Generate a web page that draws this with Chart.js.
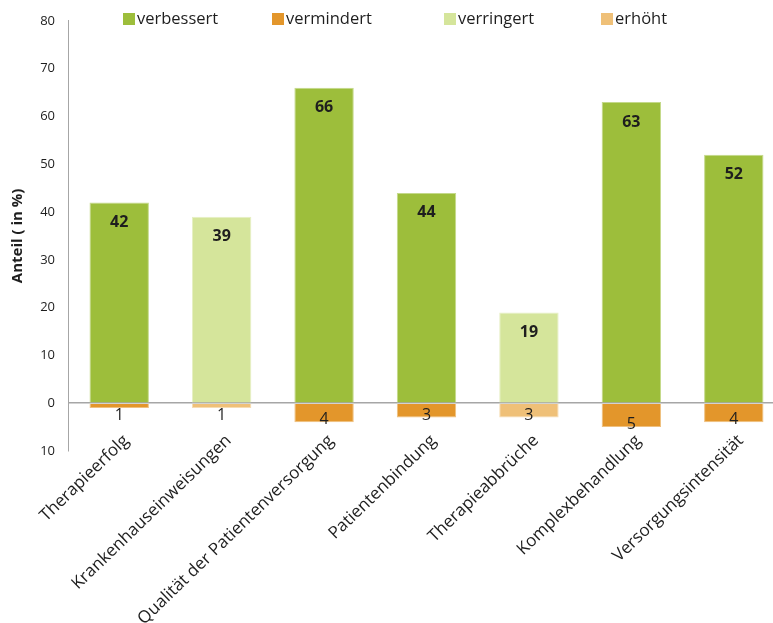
<!DOCTYPE html>
<html lang="de">
<head>
<meta charset="utf-8">
<script src="https://cdn.jsdelivr.net/npm/chart.js@4"></script>
<style>
  html, body { margin: 0; padding: 0; background: #fff; overflow: hidden; }
  .wrap { width: 790px; height: 623px; position: relative; }
</style>
</head>
<body>
<div class="wrap"><canvas id="chart"></canvas></div>
<script>
const categories = [
    'Therapieerfolg', 'Krankenhauseinweisungen', 'Qualität der Patientenversorgung',
    'Patientenbindung', 'Therapieabbrüche', 'Komplexbehandlung', 'Versorgungsintensität'
];
const verbessert = [42, null, 66, 44, null, 63, 52];
const vermindert = [-1, null, -4, -3, null, -5, -4];
const verringert = [null, 39, null, null, 19, null, null];
const erhoeht    = [null, -1, null, null, -3, null, null];
const yTicks = [-10, 0, 10, 20, 30, 40, 50, 60, 70, 80];

const FONT = '"Open Sans", "DejaVu Sans", sans-serif';
const INK = '#1e1e1e';

// legend is drawn on top of the plot, Excel style, at fixed spots
const legendX = [123, 272, 444, 601];

const legendPlugin = {
    id: 'topLegend',
    afterDraw(chart) {
        const ctx = chart.ctx;
        ctx.save();
        ctx.font = '16.5px ' + FONT;
        ctx.textBaseline = 'middle';
        chart.data.datasets.forEach((ds, i) => {
            const x = legendX[i];
            ctx.fillStyle = ds.backgroundColor;
            ctx.fillRect(x, 13, 12, 12);
            ctx.fillStyle = INK;
            ctx.fillText(ds.label, x + 14, 19);
        });
        ctx.restore();
    }
};

// category names: slanted, and allowed to reach up into the plot's bottom strip
const categoryLabels = {
    id: 'categoryLabels',
    afterDraw(chart) {
        const ctx = chart.ctx;
        const xs = chart.scales.x;
        const y = chart.chartArea.bottom - 13;
        ctx.save();
        ctx.font = '17px ' + FONT;
        ctx.fillStyle = INK;
        ctx.textAlign = 'right';
        ctx.textBaseline = 'middle';
        xs.ticks.forEach((t, i) => {
            ctx.save();
            ctx.translate(xs.getPixelForTick(i) + 7, y);
            ctx.rotate(-44 * Math.PI / 180);
            ctx.fillText(categories[i], 0, 0);
            ctx.restore();
        });
        ctx.restore();
    }
};

const valueLabels = {
    id: 'valueLabels',
    afterDatasetsDraw(chart) {
        const ctx = chart.ctx;
        const zeroY = chart.scales.y.getPixelForValue(0);
        ctx.save();
        ctx.textAlign = 'center';
        ctx.textBaseline = 'middle';
        ctx.fillStyle = INK;
        chart.data.datasets.forEach((ds, di) => {
            const meta = chart.getDatasetMeta(di);
            meta.data.forEach((el, i) => {
                const v = ds.data[i];
                if (v === null || v === undefined) return;
                if (v > 0) {
                    ctx.font = 'bold 16px ' + FONT;
                    ctx.fillText(String(v), el.x, el.y + 20);
                } else {
                    ctx.font = '16px ' + FONT;
                    const y = Math.max(el.y - 3, zeroY + 12);
                    ctx.fillText(String(Math.abs(v)), el.x, y);
                }
            });
        });
        ctx.restore();
    }
};

const barStyle = { borderWidth: 1, barPercentage: 0.58, categoryPercentage: 1 };

new Chart(document.getElementById('chart').getContext('2d'), {
    type: 'bar',
    data: {
        labels: categories,
        datasets: [
            { label: 'verbessert', data: verbessert, backgroundColor: '#9dbe3b', borderColor: '#c4d98a', ...barStyle },
            { label: 'vermindert', data: vermindert, backgroundColor: '#e3962b', borderColor: '#efc07f', ...barStyle },
            { label: 'verringert', data: verringert, backgroundColor: '#d5e59b', borderColor: '#e6efc4', ...barStyle },
            { label: 'erhöht',     data: erhoeht,    backgroundColor: '#efc078', borderColor: '#f6dcb2', ...barStyle }
        ]
    },
    options: {
        responsive: true,
        maintainAspectRatio: false,
        animation: false,
        layout: { padding: { top: 20, right: 5, bottom: 0, left: 0 } },
        plugins: { legend: { display: false }, tooltip: { enabled: false } },
        scales: {
            x: {
                stacked: true,
                grid: { display: false, drawTicks: false },
                border: { display: false },
                ticks: { display: false, autoSkip: false },
                afterFit: s => { s.height = 172; }
            },
            y: {
                stacked: true,
                min: -10, max: 80,
                afterBuildTicks: s => { s.ticks = yTicks.map(v => ({ value: v })); },
                grid: {
                    drawTicks: false,
                    color: c => c.tick && c.tick.value === 0 ? '#a6a6a6' : 'rgba(0,0,0,0)',
                    lineWidth: 1.5
                },
                border: { color: '#a6a6a6', width: 1 },
                ticks: {
                    color: INK, font: { family: FONT, size: 13 }, padding: 13,
                    callback: v => String(Math.abs(v))
                },
                title: {
                    display: true, text: 'Anteil ( in %)', color: INK,
                    font: { family: FONT, size: 15, weight: 'bold' }, padding: { top: 9, bottom: 4 }
                },
                afterFit: s => { s.width = 68; }
            }
        }
    },
    plugins: [valueLabels, legendPlugin, categoryLabels]
});
</script>
</body>
</html>
